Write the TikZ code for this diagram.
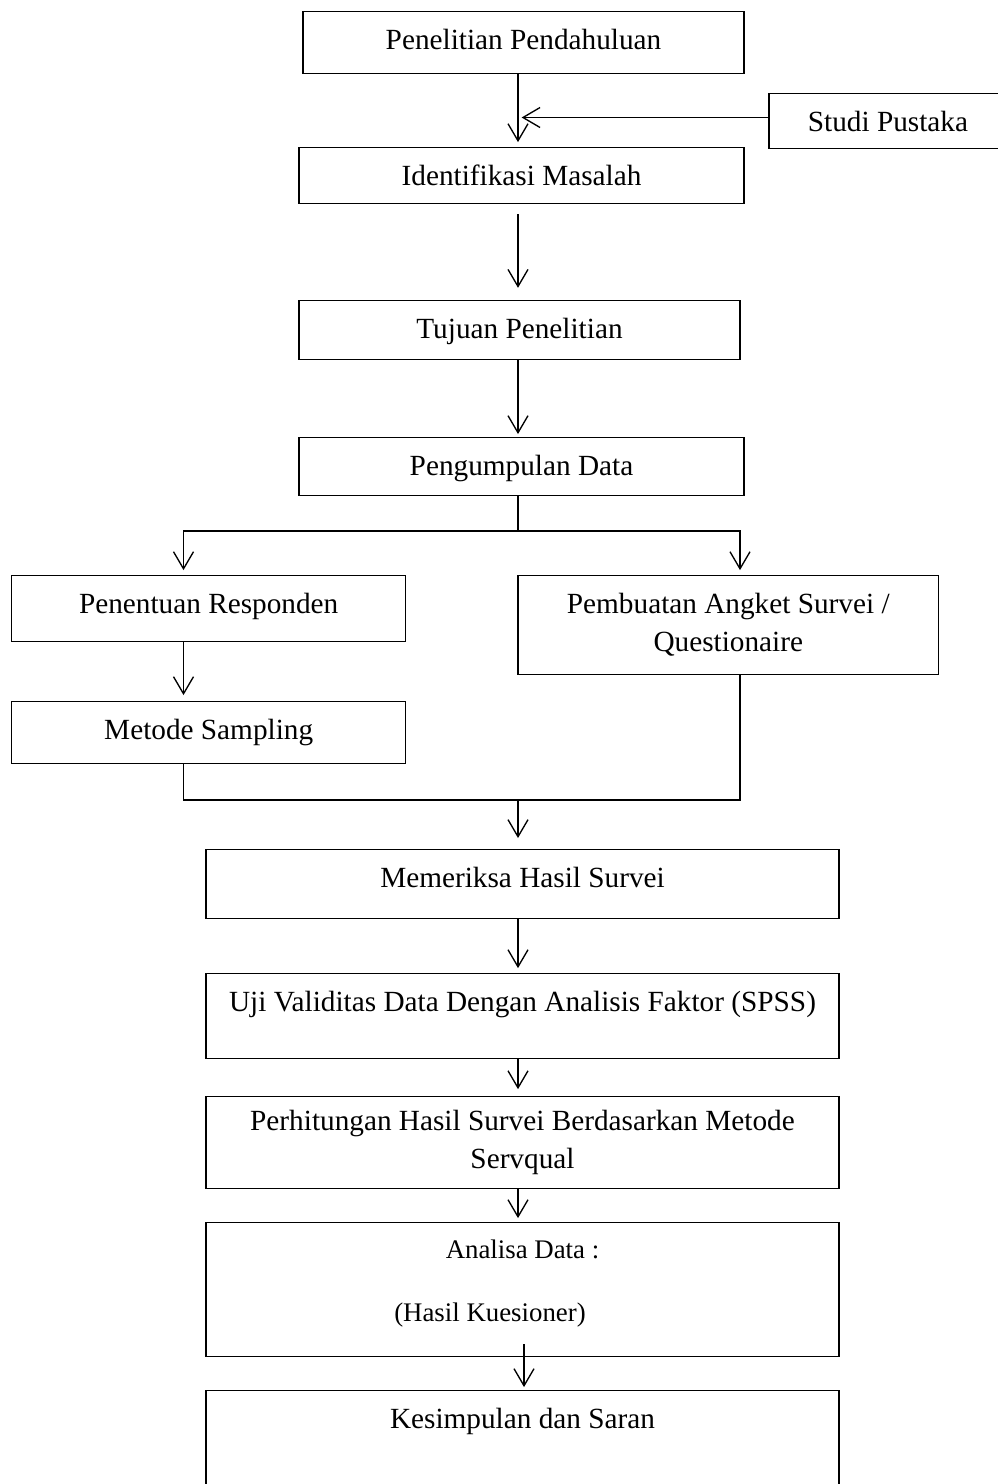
\documentclass[tikz,border=0pt]{standalone}
\usepackage{fontspec}
\setmainfont{Liberation Serif}
\usetikzlibrary{arrows.meta}
\newcommand{\px}[1]{#1*0.41pt}
\tikzset{
  box/.style={rectangle, draw, line width=0.5pt, anchor=north, align=center,
    inner xsep=0pt, inner ysep=7pt, text height=8.6pt, text depth=#1,
    font=\fontsize{12}{15.6}\selectfont},
  box/.default=2pt,
  twobox/.style={rectangle, draw, line width=0.5pt, anchor=north, align=center,
    inner xsep=0pt, minimum height=#1, font=\fontsize{12}{15.6}\selectfont},
  arr/.style={-{Straight Barb[length=7pt,width=8.2pt]}, line width=0.55pt}
}

\begin{document}
\begin{tikzpicture}[x=0.41pt, y=-0.41pt]
    \useasboundingbox (0,0) rectangle (997,1484);

    % Columns of the connectors
    \coordinate (axis) at (518,0);
    \coordinate (axis2) at (524,0);
    \coordinate (leftcol) at (183.5,0);
    \coordinate (rightcol) at (740,0);

    \node[box=2.8pt, minimum width=\px{441}] (pendahuluan) at (523.5,11) {Penelitian Pendahuluan};
    \node[box=0pt, minimum width=\px{238}] (pustaka) at (888,93) {Studi Pustaka};
    \node[box=0.4pt, minimum width=\px{445}] (masalah) at (521.5,147) {Identifikasi Masalah};
    \node[box=1.6pt, minimum width=\px{441}] (tujuan) at (519.5,300) {Tujuan Penelitian};
    \node[box=1.2pt, minimum width=\px{445}] (pengumpulan) at (521.5,437) {Pengumpulan Data};

    % Two branches
    \node[box=4.5pt, minimum width=\px{394}] (responden) at (208.7,575) {Penentuan Responden};
    \node[box=2.8pt, minimum width=\px{394}] (sampling) at (208.7,700.7) {Metode Sampling};
    \node[twobox=\px{99}, minimum width=\px{420.7}] (angket) at (728.3,575) {Pembuatan Angket Survei /\\ Questionaire};

    % Processing of the survey
    \node[box=5.7pt, minimum width=\px{633}] (memeriksa) at (522.5,849) {Memeriksa Hasil Survei};
    \node[box=12.25pt, minimum width=\px{633}] (uji) at (522.5,973) {Uji Validitas Data Dengan Analisis Faktor (SPSS)};
    \node[twobox=\px{92}, minimum width=\px{633}] (perhitungan) at (522.5,1096) {Perhitungan Hasil Survei Berdasarkan Metode\\ Servqual};
    \node[box=33.1pt, minimum width=\px{633}, text height=7.8pt, font=\fontsize{11}{13}\selectfont] (analisa) at (522.5,1222) {Analisa Data :};
    \node[anchor=base, font=\fontsize{11}{13}\selectfont] (hasil) at (490,1321.5) {(Hasil Kuesioner)};
    \node[box=25pt, minimum width=\px{633}] (kesimpulan) at (522.5,1390) {Kesimpulan dan Saran};

    \draw[arr, shorten >=2pt] (pendahuluan.south -| axis) -- (masalah.north -| axis);
    \draw[arr, shorten >=1.5pt] ([yshift=1.5pt]pustaka.west) -- ([yshift=1.5pt]pustaka.west -| axis);
    \draw[arr, shorten <=4pt, shorten >=5pt] (masalah.south -| axis) -- (tujuan.north -| axis);
    \draw[arr, shorten >=1.2pt] (tujuan.south -| axis) -- (pengumpulan.north -| axis);

    \coordinate (split) at (518,531);
    \draw[line width=0.55pt] (pengumpulan.south -| axis) -- (split);
    \draw[arr, shorten >=2pt] (split) -| (responden.north -| leftcol);
    \draw[arr, shorten >=2pt] (split) -| (angket.north -| rightcol);
    \draw[arr, shorten >=2.3pt] (responden.south -| leftcol) -- (sampling.north -| leftcol);

    \coordinate (merge) at (518,800);
    \draw[line width=0.55pt] (sampling.south -| leftcol) |- (merge) -| (angket.south -| rightcol);
    \draw[arr, shorten >=4.5pt] (merge) -- (memeriksa.north -| axis);
    \draw[arr, shorten >=2pt] (memeriksa.south -| axis) -- (uji.north -| axis);
    \draw[arr, shorten >=2.8pt] (uji.south -| axis) -- (perhitungan.north -| axis);
    \draw[arr, shorten >=1.6pt] (perhitungan.south -| axis) -- (analisa.north -| axis);
    \draw[arr, shorten <=-5.3pt, shorten >=1.2pt] (analisa.south -| axis2) -- (kesimpulan.north -| axis2);
\end{tikzpicture}
\end{document}
